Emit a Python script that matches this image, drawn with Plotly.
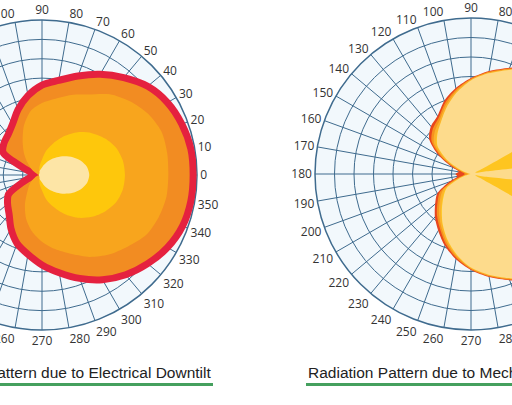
import plotly.graph_objects as go

# ---------------- data ----------------
ANGLE_TICKS = list(range(0, 360, 10))
ANGLE_LABELS = [str(a) for a in ANGLE_TICKS]
RING_TICKS = [0.125, 0.25, 0.375, 0.5, 0.625, 0.75, 0.875]

# Electrical downtilt (left chart), relative field, every 10 degrees
ed_theta = list(range(0, 360, 10))
ed_outer = [0.975, 0.975, 0.96, 0.935, 0.89, 0.82, 0.75, 0.68, 0.62, 0.58, 0.52, 0.45, 0.38, 0.34,
            0.32, 0.29, 0.12, 0.06, 0.04, 0.07, 0.13, 0.25, 0.29, 0.33, 0.40, 0.47, 0.52, 0.58,
            0.64, 0.71, 0.78, 0.84, 0.89, 0.935, 0.965, 0.975]
ed_mid = [0.815, 0.82, 0.82, 0.79, 0.74, 0.68, 0.60, 0.55, 0.50, 0.465, 0.42, 0.34, 0.25, 0.18,
          0.12, 0.08, 0.05, 0.03, 0.02, 0.03, 0.05, 0.08, 0.11, 0.15, 0.22, 0.30, 0.37, 0.43,
          0.485, 0.54, 0.61, 0.67, 0.72, 0.775, 0.80, 0.815]
ed_inner = [0.535, 0.53, 0.51, 0.47, 0.42, 0.36, 0.29, 0.22, 0.16, 0.10, 0.07, 0.05, 0.035, 0.03,
            0.025, 0.02, 0.02, 0.02, 0.02, 0.02, 0.02, 0.02, 0.025, 0.03, 0.035, 0.05, 0.07, 0.10,
            0.16, 0.22, 0.29, 0.36, 0.42, 0.47, 0.51, 0.53]
ed_core = [0.305, 0.295, 0.267, 0.23, 0.188, 0.149, 0.116, 0.088, 0.065, 0.048, 0.04, 0.035, 0.03, 0.025,
           0.02, 0.02, 0.02, 0.02, 0.02, 0.02, 0.02, 0.02, 0.02, 0.025, 0.03, 0.035, 0.04, 0.048,
           0.065, 0.088, 0.116, 0.149, 0.188, 0.23, 0.267, 0.295]

# Mechanical downtilt (right chart)
md_theta = list(range(0, 360, 10))
md_outer = [0.98, 0.97, 0.95, 0.93, 0.90, 0.86, 0.80, 0.725, 0.67, 0.615, 0.56, 0.50, 0.43, 0.40,
            0.35, 0.24, 0.13, 0.08, 0.10, 0.09, 0.15, 0.25, 0.30, 0.36, 0.42, 0.49, 0.555, 0.615,
            0.67, 0.725, 0.80, 0.86, 0.90, 0.93, 0.95, 0.97]
md_orange = [0.97, 0.96, 0.94, 0.92, 0.89, 0.85, 0.79, 0.72, 0.665, 0.61, 0.55, 0.485, 0.415, 0.38,
             0.33, 0.22, 0.11, 0.05, 0.04, 0.05, 0.12, 0.23, 0.28, 0.34, 0.40, 0.475, 0.545, 0.61,
             0.665, 0.72, 0.79, 0.85, 0.89, 0.92, 0.94, 0.96]
md_amber = [0.96, 0.95, 0.93, 0.91, 0.88, 0.84, 0.785, 0.715, 0.66, 0.605, 0.54, 0.47, 0.40, 0.36,
            0.31, 0.20, 0.09, 0.03, 0.01, 0.03, 0.10, 0.21, 0.26, 0.32, 0.385, 0.46, 0.535, 0.605,
            0.66, 0.715, 0.785, 0.84, 0.88, 0.91, 0.93, 0.95]
md_yellow = [0.95, 0.94, 0.92, 0.90, 0.87, 0.83, 0.78, 0.71, 0.655, 0.60, 0.53, 0.455, 0.385, 0.34,
             0.29, 0.18, 0.07, 0.02, 0.0, 0.02, 0.08, 0.19, 0.24, 0.30, 0.37, 0.45, 0.53, 0.60,
             0.655, 0.71, 0.78, 0.83, 0.87, 0.90, 0.92, 0.94]
md_pale_theta = [0, 5, 10, 15, 20, 25, 30, 35, 40, 50, 60, 70, 80, 90, 100, 110, 120, 130, 140, 150,
                 160, 170, 180, 190, 200, 210, 220, 230, 240, 250, 260, 270, 280, 290, 300, 310,
                 320, 325, 330, 335, 340, 345, 350, 355]
md_pale = [0.90, 0.70, 0.10, 0.03, 0.03, 0.08, 0.55, 0.80, 0.86, 0.83, 0.78, 0.71, 0.655, 0.60,
           0.53, 0.455, 0.385, 0.335, 0.28, 0.17, 0.06, 0.01, 0.0, 0.01, 0.07, 0.18, 0.23, 0.29,
           0.365, 0.445, 0.525, 0.60, 0.655, 0.71, 0.78, 0.83, 0.86, 0.80, 0.55, 0.08, 0.03,
           0.03, 0.10, 0.70]

CAPTIONS = ["Radiation Pattern due to Electrical Downtilt",
            "Radiation Pattern due to Mechanical Downtilt"]

# ---------------- styles ----------------
GRID = "#3F6B8E"
BG = "#F2F8FC"
W, H = 745, 405
SHIFT = 115


def closed(t, r):
    return list(t) + [t[0]], list(r) + [r[0]]


def layer(t, r, fill, sub, line_color=None, line_width=0):
    tt, rr = closed(t, r)
    return go.Scatterpolar(
        theta=tt, r=rr, mode="lines", fill="toself", fillcolor=fill,
        line=dict(color=line_color or fill, width=line_width, shape="spline", smoothing=0.8),
        subplot=sub, hoverinfo="skip", showlegend=False)


fig = go.Figure()
# left chart
fig.add_trace(layer(ed_theta, ed_outer, "#F28C22", "polar", "#E5213F", 7))
fig.add_trace(layer(ed_theta, ed_mid, "#F8A51D", "polar"))
fig.add_trace(layer(ed_theta, ed_inner, "#FEC70C", "polar"))
fig.add_trace(layer(ed_theta, ed_core, "#FDE5A6", "polar"))
# right chart
fig.add_trace(layer(md_theta, md_outer, "#E8461E", "polar2"))
fig.add_trace(layer(md_theta, md_orange, "#F7921E", "polar2"))
fig.add_trace(layer(md_theta, md_amber, "#FBB32C", "polar2"))
fig.add_trace(layer(md_theta, md_yellow, "#FEC520", "polar2"))
fig.add_trace(layer(md_pale_theta, md_pale, "#FDDB8C", "polar2"))


def polar_layout(x0, x1, ytop, ybot):
    return dict(
        domain=dict(x=[x0 / W, x1 / W], y=[(H - ybot) / H, (H - ytop) / H]),
        bgcolor=BG,
        radialaxis=dict(range=[0, 1], tickvals=RING_TICKS, showticklabels=False, ticks="",
                        showline=False, gridcolor=GRID, gridwidth=1.2, layer="below traces"),
        angularaxis=dict(rotation=0, direction="counterclockwise", tickvals=ANGLE_TICKS,
                         ticktext=ANGLE_LABELS, ticks="",
                         gridcolor=GRID, gridwidth=1.2,
                         linecolor=GRID, linewidth=1.5, showline=True, layer="below traces",
                         tickfont=dict(family="Open Sans, Arial", size=12, color="#333333")),
    )


fig.update_layout(
    width=W, height=H, margin=dict(l=0, r=0, t=0, b=0),
    paper_bgcolor="white", plot_bgcolor="white",
    polar=polar_layout(2, 312, 20, 330),
    polar2=polar_layout(430, 742, 18, 330),
)

cap_font = dict(family="Liberation Sans, Arial", size=15.5, color="#222222")
fig.add_annotation(text=CAPTIONS[0], xref="paper", yref="paper", x=328 / W, y=(H - 372) / H,
                   xanchor="right", yanchor="middle", showarrow=False, font=cap_font)
fig.add_annotation(text=CAPTIONS[1], xref="paper", yref="paper", x=421 / W, y=(H - 372) / H,
                   xanchor="left", yanchor="middle", showarrow=False, font=cap_font)
for xa, xb in [(35, 328), (421, 729)]:
    fig.add_shape(type="line", xref="paper", yref="paper", x0=xa / W, x1=xb / W,
                  y0=(H - 384.5) / H, y1=(H - 384.5) / H, line=dict(color="#45A05E", width=3))

post = ("var d=document.getElementById('{plot_id}');d.style.marginLeft='-%dpx';"
        "document.body.style.margin='0';document.body.style.overflow='hidden';"
        "document.documentElement.style.overflow='hidden';" % SHIFT)
fig.write_html("out.html", post_script=post, config={"displayModeBar": False})
